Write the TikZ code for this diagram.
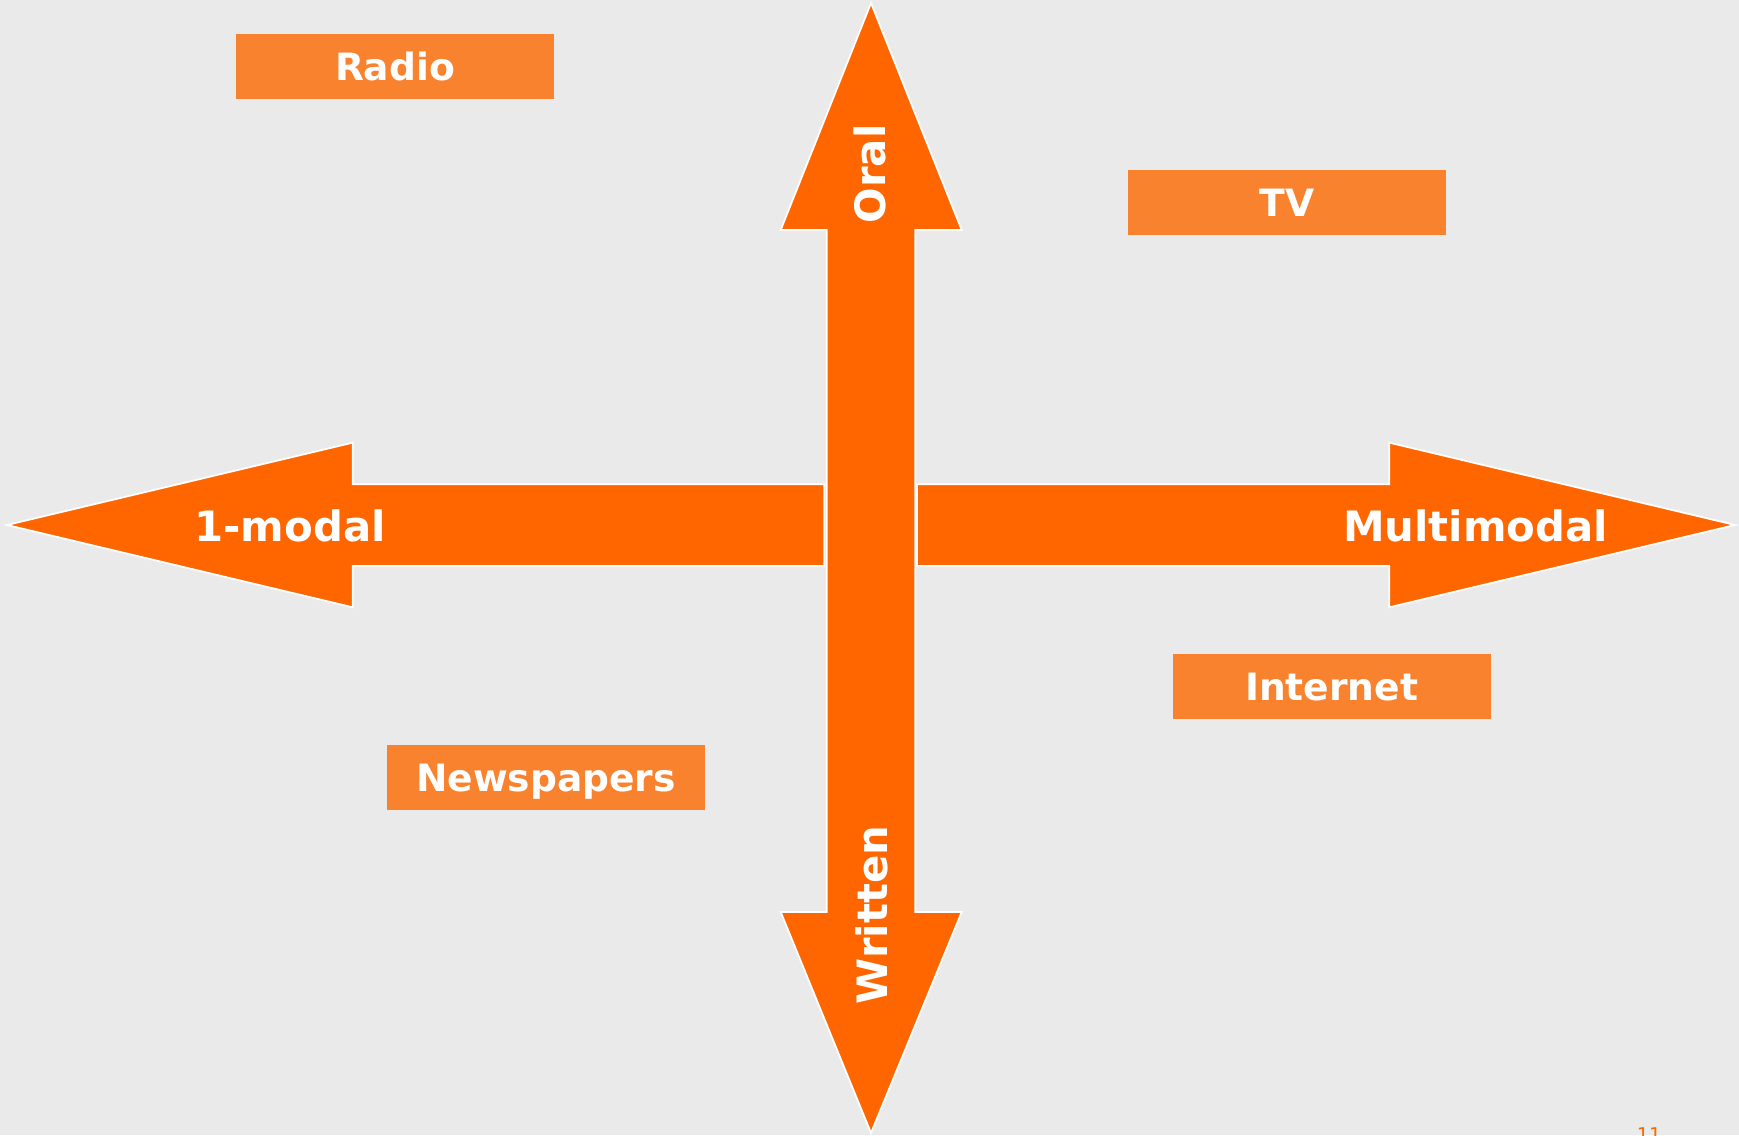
\documentclass[tikz,border=0pt]{standalone}
\usepackage{fontspec}
\setmainfont{DejaVu Sans}

\definecolor{axisorange}{HTML}{FF6600}
\definecolor{mediaorange}{HTML}{F9822F}
\definecolor{slidegray}{HTML}{EAEAEA}

\tikzset{
  medium/.style={fill=mediaorange, text=white, inner sep=0pt,
    font=\fontsize{10.7}{12}\selectfont\bfseries,
    minimum width=3.18cm, minimum height=0.65cm,
    text height=7.8pt, text depth=0pt},
  axisarrow/.style={fill=axisorange, draw=white, line width=0.5pt},
  axislabel/.style={text=white, inner sep=0pt,
    font=\fontsize{11.9}{13}\selectfont\bfseries,
    text height=8.7pt, text depth=0pt}
}

\begin{document}
\begin{tikzpicture}

\useasboundingbox (0,0) rectangle (17.39,11.35);
\fill [slidegray] (0,0) rectangle (17.39,11.35);

\draw [axisarrow] (8.243,6.507) -- (3.527,6.507) -- (3.527,6.923) -- (0.07,6.10)
  -- (3.527,5.277) -- (3.527,5.69) -- (8.243,5.69) -- cycle; %left
\draw [axisarrow] (9.17,6.507) -- (13.893,6.507) -- (13.893,6.923) -- (17.35,6.10)
  -- (13.893,5.277) -- (13.893,5.69) -- (9.17,5.69) -- cycle; %right
\draw [axisarrow] (8.267,9.05) -- (7.807,9.05) -- (8.71,11.32) -- (9.617,9.05)
  -- (9.153,9.05) -- (9.153,2.23) -- (9.617,2.23) -- (8.71,0.02)
  -- (7.807,2.23) -- (8.267,2.23) -- cycle; %up-down

\node [axislabel, rotate=90] (oral) at (8.70,9.61) {Oral};
\node [axislabel, rotate=90] (written) at (8.72,2.20) {Written};
\node [axislabel] (onemodal) at (2.90,6.09) {1-modal};
\node [axislabel] (multimodal) at (14.755,6.09) {Multimodal};

\node [medium] (radio) at (3.95,10.685) {Radio};
\node [medium] (tv) at (12.87,9.326) {TV};
\node [medium] (internet) at (13.317,4.486) {Internet};
\node [medium] (newspapers) at (5.46,3.576) {Newspapers};

\node [text=axisorange, font=\fontsize{5.4}{6}\selectfont, anchor=base, inner sep=0pt] (pagenum) at (16.49,-0.06) {11};

\end{tikzpicture}
\end{document}
